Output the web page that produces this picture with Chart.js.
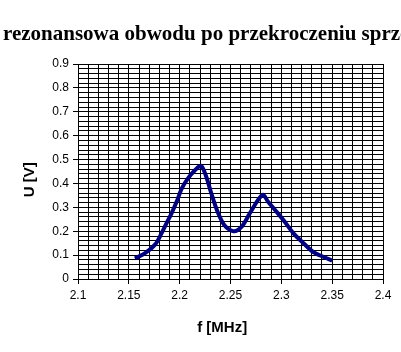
<!DOCTYPE html>
<html>
<head>
<meta charset="utf-8">
<script src="https://cdn.jsdelivr.net/npm/chart.js@4.4.1/dist/chart.umd.min.js"></script>
<style>
    html, body { margin: 0; padding: 0; background: #ffffff; }
</style>
</head>
<body>
<canvas id="rezChart" width="401" height="352"></canvas>
<script>
"use strict";

const freqMHz = [2.156, 2.166, 2.176, 2.182, 2.187, 2.192, 2.197, 2.202, 2.208, 2.215,
                 2.221, 2.226, 2.231, 2.237, 2.244, 2.253, 2.261, 2.269, 2.277, 2.282,
                 2.287, 2.294, 2.302, 2.312, 2.322, 2.331, 2.341, 2.350];
const voltageV = [0.086, 0.108, 0.145, 0.190, 0.233, 0.275, 0.323, 0.378, 0.420, 0.455,
                  0.474, 0.430, 0.360, 0.285, 0.225, 0.200, 0.219, 0.275, 0.330, 0.353,
                  0.323, 0.288, 0.247, 0.191, 0.149, 0.114, 0.093, 0.077];

const xMajorTicks = [2.1, 2.15, 2.2, 2.25, 2.3, 2.35, 2.4];
const yMajorTicks = [0, 0.1, 0.2, 0.3, 0.4, 0.5, 0.6, 0.7, 0.8, 0.9];

// tytul jest szerszy niz wykres - widac tylko srodek
const TITLE = "Charakterystyka rezonansowa obwodu po przekroczeniu sprzężenia krytycznego";

function isMajor(list, v) {
    return list.some(m => Math.abs(m - v) < 1e-6);
}
function fmt(v) {
    return String(Math.round(v * 100) / 100);
}

const tickFont = { family: "'Liberation Sans', Arial, sans-serif", size: 12 };
const axisTitleFont = { family: "'Liberation Sans', Arial, sans-serif", size: 15, weight: "bold" };

// chart.js sciska tytul do szerokosci canvasu, wiec rysujemy go sami
const clippedTitle = {
    id: "clippedTitle",
    afterDraw(chart) {
        const ctx = chart.ctx;
        ctx.save();
        ctx.font = "bold 21px 'Liberation Serif', 'Times New Roman', serif";
        ctx.fillStyle = "#000";
        ctx.textAlign = "left";
        ctx.textBaseline = "alphabetic";
        const lead = ctx.measureText(TITLE.slice(0, TITLE.indexOf("rezonansowa"))).width;
        ctx.fillText(TITLE, 3 - lead, 40);
        ctx.restore();
    }
};

new Chart(document.getElementById("rezChart"), {
    type: "scatter",
    data: {
        datasets: [{
            data: freqMHz.map((f, i) => ({ x: f, y: voltageV[i] })),
            showLine: true,
            borderColor: "#000080",
            backgroundColor: "#000080",
            borderWidth: 4,
            pointRadius: 0,
            tension: 0.3,
            fill: false
        }]
    },
    options: {
        responsive: false,
        devicePixelRatio: 1,
        animation: false,
        layout: { padding: { left: 0, right: 18, top: 64, bottom: 0 } },
        plugins: {
            legend: { display: false },
            tooltip: { enabled: false },
            title: { display: false }
        },
        scales: {
            x: {
                type: "linear",
                min: 2.1,
                max: 2.4,
                afterFit: s => { s.height = 73; },
                ticks: {
                    stepSize: 0.01,
                    autoSkip: false,
                    maxRotation: 0,
                    color: "#000",
                    font: tickFont,
                    padding: 4,
                    callback: v => isMajor(xMajorTicks, v) ? fmt(v) : ""
                },
                grid: {
                    color: "#000",
                    lineWidth: 1,
                    tickLength: 5,
                    tickColor: c => (c.tick && isMajor(xMajorTicks, c.tick.value)) ? "#000" : "rgba(0,0,0,0)"
                },
                border: { color: "#000", width: 1 },
                title: { display: true, text: "f [MHz]    ", color: "#000", font: axisTitleFont, padding: { top: 0, bottom: 15 } }
            },
            y: {
                min: 0,
                max: 0.9,
                afterFit: s => { s.width = 78; },
                ticks: {
                    stepSize: 0.02,
                    autoSkip: false,
                    color: "#000",
                    font: tickFont,
                    padding: 4,
                    callback: v => isMajor(yMajorTicks, v) ? fmt(v) : ""
                },
                grid: {
                    color: "#000",
                    lineWidth: 1,
                    tickLength: 5,
                    tickColor: c => (c.tick && isMajor(yMajorTicks, c.tick.value)) ? "#000" : "rgba(0,0,0,0)"
                },
                border: { color: "#000", width: 1 },
                title: { display: true, text: "U [V]    ", color: "#000", font: axisTitleFont, padding: { top: 21, bottom: 0 } }
            }
        }
    },
    plugins: [clippedTitle]
});
</script>
</body>
</html>
